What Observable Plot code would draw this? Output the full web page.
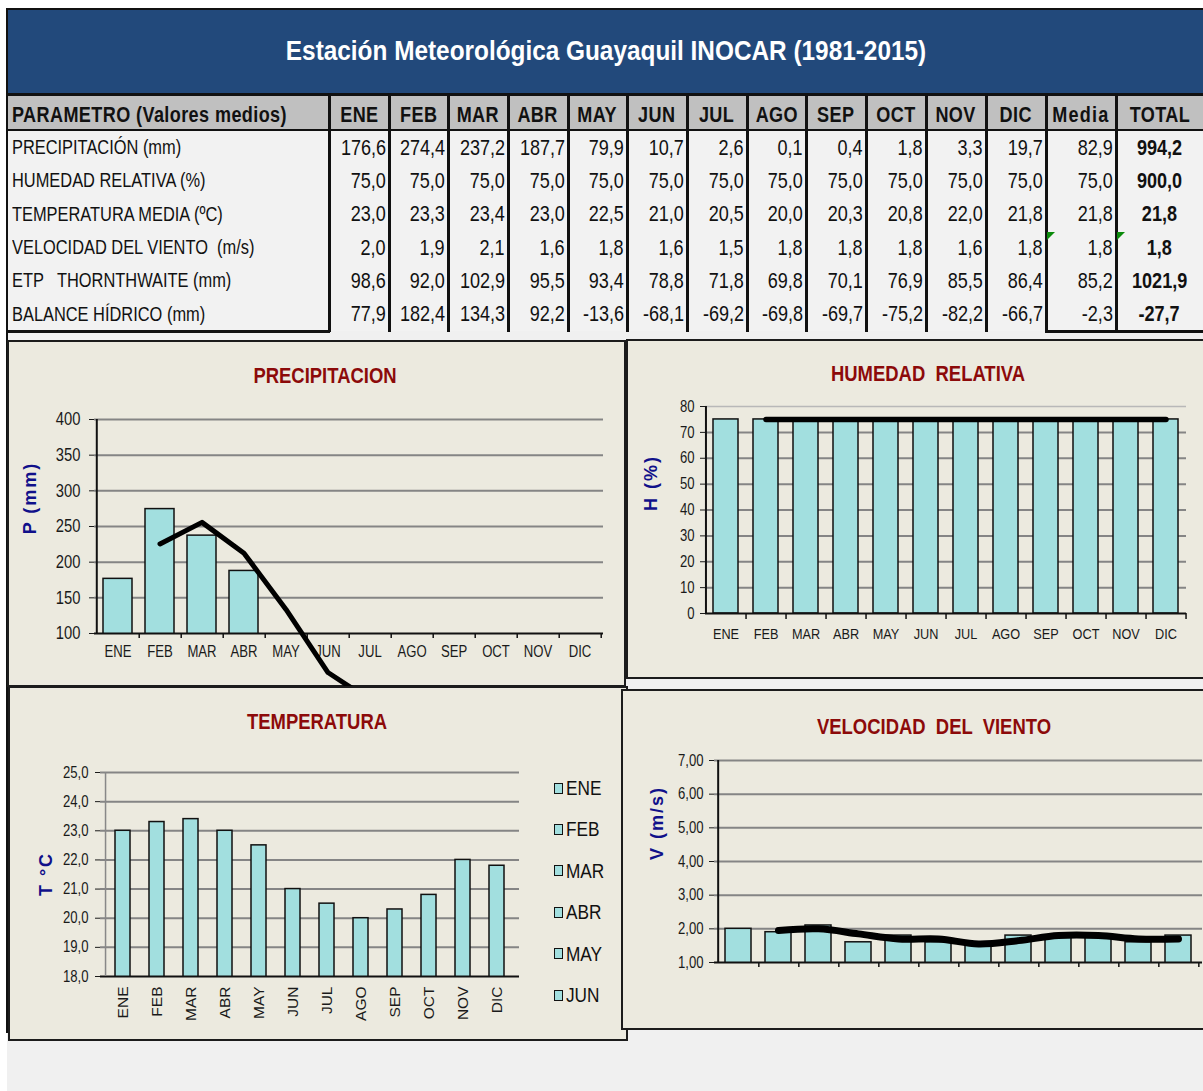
<!DOCTYPE html>
<html lang="es">
<head>
<meta charset="utf-8">
<title>Estación Meteorológica Guayaquil INOCAR (1981-2015)</title>
<script src="https://cdn.jsdelivr.net/npm/d3@7"></script>
<script src="https://cdn.jsdelivr.net/npm/@observablehq/plot@0.6"></script>
<style>
  html, body { margin:0; padding:0; background:#fff; }
  body { width:1203px; height:1091px; position:relative; overflow:hidden;
         font-family:"Liberation Sans",Arial,sans-serif; color:#111; }
  .abs { position:absolute; box-sizing:border-box; }
  .cell { position:absolute; display:flex; align-items:center; white-space:pre; box-sizing:border-box; }
  .cell > span, .leg > span, .ttl > span { display:inline-block; flex-shrink:0; white-space:pre; }
  .panel { position:absolute; box-sizing:border-box; background:#eceadf; border:2px solid #1c1c1c; }
  .ptitle { position:absolute; transform:translate(-50%,-50%) scaleX(0.82); color:#8c0a0a; font-weight:bold; font-size:22.5px; white-space:pre; }
  .ytitle { position:absolute; transform:translate(-50%,-50%) rotate(-90deg); color:#10108a; font-weight:bold; font-size:18px; letter-spacing:2px; white-space:pre; }
  .leg { position:absolute; display:flex; align-items:center; font-size:21px; white-space:pre; }
  .sw { width:9px; height:11px; background:#a2dfdf; border:1.5px solid #111; box-sizing:border-box; margin-right:3px; flex-shrink:0; }
</style>
</head>
<body>
<script>
// ---------------- DATA ----------------
const months = ["ENE","FEB","MAR","ABR","MAY","JUN","JUL","AGO","SEP","OCT","NOV","DIC"];
const paramLabels = ["PRECIPITACIÓN (mm)","HUMEDAD RELATIVA (%)","TEMPERATURA MEDIA (ºC)","VELOCIDAD DEL VIENTO  (m/s)","ETP   THORNTHWAITE (mm)","BALANCE HÍDRICO (mm)"];
const headerFirst = "PARAMETRO (Valores medios)";
const headerMedia = "Media";
const headerTotal = "TOTAL";
const precip      = [176.6,274.4,237.2,187.7,79.9,10.7,2.6,0.1,0.4,1.8,3.3,19.7];
const humedad     = [75.0,75.0,75.0,75.0,75.0,75.0,75.0,75.0,75.0,75.0,75.0,75.0];
const temperatura = [23.0,23.3,23.4,23.0,22.5,21.0,20.5,20.0,20.3,20.8,22.0,21.8];
const viento      = [2.0,1.9,2.1,1.6,1.8,1.6,1.5,1.8,1.8,1.8,1.6,1.8];
const etp         = [98.6,92.0,102.9,95.5,93.4,78.8,71.8,69.8,70.1,76.9,85.5,86.4];
const balance     = [77.9,182.4,134.3,92.2,-13.6,-68.1,-69.2,-69.8,-69.7,-75.2,-82.2,-66.7];
const media       = [82.9,75.0,21.8,1.8,85.2,-2.3];
const total       = [994.2,900.0,21.8,1.8,1021.9,-27.7];
// trend lines (FEB..DIC)
const precipTrend = [225.5,255.8,212.5,133.8,45.3,6.7,1.4,0.3,1.1,2.6,11.5];
const humTrend    = [75,75,75,75,75,75,75,75,75,75,75];
const vientoTrend = [1.95,2.0,1.85,1.7,1.7,1.55,1.65,1.8,1.8,1.7,1.7];
// axis ticks
const precipTicks = [100,150,200,250,300,350,400];
const humTicks    = [0,10,20,30,40,50,60,70,80];
const tempTicks   = [18,19,20,21,22,23,24,25];
const vientoTicks = [1,2,3,4,5,6,7];
const legendMonths = ["ENE","FEB","MAR","ABR","MAY","JUN"];
const chartTitles = ["PRECIPITACION","HUMEDAD  RELATIVA","TEMPERATURA","VELOCIDAD  DEL  VIENTO"];
const yTitles = ["P (mm)","H (%)","T °C","V (m/s)"];
const mainTitle = "Estación Meteorológica Guayaquil INOCAR (1981-2015)";

// ---------------- HELPERS ----------------
const NF = 0.82; // horizontal condensing (narrow face look)
const BAR = "#a2dfdf";
const fmt1 = v => v.toFixed(1).replace(".", ",");
const fmt2 = v => v.toFixed(2).replace(".", ",");
const px = v => v + "px";
function box(cls, css, text) {
  const d = document.createElement("div");
  if (cls) d.className = cls;
  Object.assign(d.style, css);
  if (text != null) d.textContent = text;
  document.body.appendChild(d);
  return d;
}
function nspan(parent, text, origin, f = NF) {
  const s = document.createElement("span");
  s.textContent = text;
  s.style.transform = `scaleX(${f})`;
  s.style.transformOrigin = origin + " center";
  parent.appendChild(s);
  return s;
}
function cell(l, t, w, h, text, align, css) {
  const c = box("cell", Object.assign({left:px(l), top:px(t), width:px(w), height:px(h),
    justifyContent: align === "left" ? "flex-start" : align === "right" ? "flex-end" : "center"}, css));
  nspan(c, text, align);
  return c;
}
function rect(l, t, w, h, bg) { return box("abs", {left:px(l), top:px(t), width:px(w), height:px(h), background:bg}); }
function place(svg, l, t) { svg.style.position = "absolute"; svg.style.left = px(l); svg.style.top = px(t); document.body.appendChild(svg); }
function narrowSvg(svg, skip) {
  svg.querySelectorAll("text").forEach(t => {
    if (skip && t.closest(skip)) return;
    const L = t.getComputedTextLength();
    if (L > 0) { t.setAttribute("textLength", (L * NF).toFixed(2)); t.setAttribute("lengthAdjust", "spacingAndGlyphs"); }
  });
}

// ---------------- PAGE / TABLE ----------------
rect(7, 8, 1196, 1083, "#f0f0f0");
rect(6, 8, 1197, 2, "#111");           // outer top border
rect(6, 8, 2, 1025, "#111");           // outer left border
rect(8, 10, 1195, 84, "#22497b");      // title bar
{
  const t = box("ttl abs", {left:"8px", top:"10px", width:"1195px", height:"84px", display:"flex", alignItems:"center", justifyContent:"center",
    color:"#fff", fontWeight:"bold", fontSize:"28px", paddingBottom:"2px"});
  const s = nspan(t, mainTitle, "center", 1);
  s.style.transform = `scaleX(${(640 / s.offsetWidth).toFixed(3)})`;
}
rect(8, 93, 1195, 3, "#111");          // under title
rect(8, 96, 1195, 34, "#c0c0c0");      // header bg
rect(8, 131, 1195, 200, "#f2f2f2");    // body bg
rect(8, 129, 1195, 2, "#111");         // header bottom

const colEdges = [8, 329, 389, 448, 508, 568, 627, 687, 747, 806, 866, 926, 986, 1046, 1116, 1203];
const headers = [headerFirst, ...months, headerMedia, headerTotal];
headers.forEach((h, i) => {
  const l = colEdges[i], w = colEdges[i+1] - colEdges[i];
  cell(l, 96, w, 34, h, i === 0 ? "left" : "center",
    {fontWeight:"bold", fontSize:"22px", paddingLeft: i === 0 ? "4px" : "0", paddingTop:"3px",
     letterSpacing: (i === headers.length-2) ? "1.5px" : "0.5px"});
});
const rowsData = [precip, humedad, temperatura, viento, etp, balance];
const rowH = 33.3;
rowsData.forEach((arr, r) => {
  const t = 131 + r * rowH;
  cell(8, t, 321, rowH, paramLabels[r], "left", {fontSize:"20px", paddingLeft:"4px"});
  arr.forEach((v, i) => {
    const l = colEdges[i+1], w = colEdges[i+2] - colEdges[i+1];
    cell(l, t, w, rowH, fmt1(v), "right", {fontSize:"22px", paddingRight:"3px"});
  });
  cell(colEdges[13], t, colEdges[14]-colEdges[13], rowH, fmt1(media[r]), "right", {fontSize:"22px", paddingRight:"3px"});
  cell(colEdges[14], t, colEdges[15]-colEdges[14], rowH, fmt1(total[r]), "center", {fontSize:"22px", fontWeight:"bold"});
});
for (let i = 1; i < colEdges.length - 1; i++) rect(colEdges[i] - 1, 96, 2.5, 236, "#111");
rect(6, 330, 324, 2.5, "#111");
rect(1045, 330, 158, 2.5, "#111");
// green error indicators (VELOCIDAD row, Media & TOTAL)
[1047, 1117].forEach(l => box("abs", {left:px(l), top:px(131 + 3*rowH + 1), width:"0", height:"0",
  borderTop:"8px solid #0b8a0b", borderRight:"8px solid transparent"}));

// ---------------- CHART HELPERS ----------------
const baseStyle = {background:"transparent", fontFamily:'"Liberation Sans",Arial,sans-serif', color:"#1a1a1a", overflow:"hidden"};
function rowsOf(values) { return months.map((m, i) => ({mes:m, v:values[i]})); }
function trendOf(values) { return months.slice(1).map((m, i) => ({mes:m, v:values[i]})); }

// ---------------- PRECIPITACION ----------------
box("panel", {left:"7px", top:"340px", width:"619px", height:"347px"});
{
  const W = 615, H = 344, mL = 85, mR = 21, mT = 77, mB = 53;
  const step = (W - mL - mR) / 12, fh = H - mT - mB;
  const svg = Plot.plot({
    width: W, height: H, marginLeft: mL, marginRight: mR, marginTop: mT, marginBottom: mB,
    style: baseStyle,
    x: {domain: months, paddingInner: 0.32, paddingOuter: 0.16, label: null},
    y: {domain: [100, 400], label: null},
    marks: [
      Plot.ruleY(precipTicks.slice(1), {stroke: "#858585", strokeWidth: 2}),
      Plot.barY(rowsOf(precip), {x: "mes", y: "v", fill: BAR, stroke: "#111", strokeWidth: 1.5, clip: true}),
      Plot.ruleY([100], {stroke: "#111", strokeWidth: 2}),
      Plot.ruleX([months[0]], {dx: -step/2, stroke: "#111", strokeWidth: 2}),
      Plot.ruleX(months, {dx: step/2, insetTop: fh, insetBottom: -5, stroke: "#111", strokeWidth: 1.5}),
      Plot.axisY({ticks: precipTicks, tickSize: 5, tickPadding: 9, fontSize: 18, tickFormat: d => String(d)}),
      Plot.axisX({tickSize: 0, tickPadding: 12, fontSize: 16}),
      Plot.lineY(trendOf(precipTrend), {x: "mes", y: "v", stroke: "#000", strokeWidth: 5, strokeLinecap: "round", strokeLinejoin: "round"})
    ]
  });
  place(svg, 9, 342);
  narrowSvg(svg);
}
box("ptitle", {left:"325px", top:"376px"}, chartTitles[0]);
box("ytitle", {left:"30px", top:"498px"}, yTitles[0]);

// ---------------- HUMEDAD ----------------
box("panel", {left:"626px", top:"339px", width:"600px", height:"340px"});
{
  const W = 575, H = 336, mL = 77, mR = 17, mT = 65, mB = 64;
  const step = (W - mL - mR) / 12, fh = H - mT - mB;
  const svg = Plot.plot({
    width: W, height: H, marginLeft: mL, marginRight: mR, marginTop: mT, marginBottom: mB,
    style: baseStyle,
    x: {domain: months, paddingInner: 0.38, paddingOuter: 0.19, label: null},
    y: {domain: [0, 80], label: null},
    marks: [
      Plot.ruleY(humTicks.slice(1, -1), {stroke: "#858585", strokeWidth: 2}),
      Plot.ruleY(humTicks.slice(-1), {stroke: "#b8b8b8", strokeWidth: 1.5}),
      Plot.barY(rowsOf(humedad), {x: "mes", y: "v", fill: BAR, stroke: "#111", strokeWidth: 1.5}),
      Plot.ruleY([0], {stroke: "#111", strokeWidth: 2}),
      Plot.ruleX([months[0]], {dx: -step/2, stroke: "#111", strokeWidth: 2}),
      Plot.ruleX(months, {dx: step/2, insetTop: fh, insetBottom: -6, stroke: "#111", strokeWidth: 1.5}),
      Plot.axisY({ticks: humTicks, tickSize: 5, tickPadding: 6, fontSize: 16, tickFormat: d => String(d)}),
      Plot.axisX({tickSize: 0, tickPadding: 14, fontSize: 15.5}),
      Plot.lineY(trendOf(humTrend), {x: "mes", y: "v", stroke: "#000", strokeWidth: 5.5, strokeLinecap: "round"})
    ]
  });
  place(svg, 628, 341);
  narrowSvg(svg);
}
box("ptitle", {left:"928px", top:"374px"}, chartTitles[1]);
box("ytitle", {left:"651px", top:"483px"}, yTitles[1]);

// ---------------- TEMPERATURA ----------------
box("panel", {left:"8px", top:"686px", width:"620px", height:"355px"});
{
  const W = 616, H = 350, mL = 90, mR = 107, mT = 84, mB = 62;
  const step = (W - mL - mR) / 12;
  const svg = Plot.plot({
    width: W, height: H, marginLeft: mL, marginRight: mR, marginTop: mT, marginBottom: mB,
    style: baseStyle,
    x: {domain: months, paddingInner: 0.57, paddingOuter: 0.285, label: null},
    y: {domain: [18, 25], label: null},
    marks: [
      Plot.ruleY(tempTicks.slice(1), {stroke: "#858585", strokeWidth: 2}),
      Plot.barY(rowsOf(temperatura), {x: "mes", y: "v", fill: BAR, stroke: "#111", strokeWidth: 1.5, clip: true}),
      Plot.ruleY([18], {stroke: "#111", strokeWidth: 2}),
      Plot.ruleX([months[0]], {dx: -step/2, stroke: "#888", strokeWidth: 1.5}),
      Plot.axisY({ticks: tempTicks, tickSize: 5, tickPadding: 7, fontSize: 16, tickFormat: fmt1}),
      Plot.axisX({tickSize: 0, tickPadding: 10, tickRotate: -90, fontSize: 15.5})
    ]
  });
  place(svg, 10, 688);
  narrowSvg(svg, '[aria-label="x-axis tick label"]');
}
box("ptitle", {left:"317px", top:"722px"}, chartTitles[2]);
box("ytitle", {left:"46px", top:"874px"}, yTitles[2]);
legendMonths.forEach((m, i) => {
  const d = box("leg", {left:"554px", top:px(788 + i*41.4 - 13), height:"26px"});
  const s = document.createElement("div"); s.className = "sw"; d.appendChild(s);
  nspan(d, m, "left");
});

// ---------------- VELOCIDAD DEL VIENTO ----------------
box("panel", {left:"621px", top:"689px", width:"600px", height:"341px"});
{
  const W = 580, H = 337, mL = 91, mR = 1, mT = 69, mB = 66;
  const step = (W - mL - mR) / 12, fh = H - mT - mB;
  const svg = Plot.plot({
    width: W, height: H, marginLeft: mL, marginRight: mR, marginTop: mT, marginBottom: mB,
    style: baseStyle,
    x: {domain: months, paddingInner: 0.36, paddingOuter: 0.18, label: null, axis: null},
    y: {domain: [1, 7], label: null},
    marks: [
      Plot.ruleY(vientoTicks.slice(1), {stroke: "#858585", strokeWidth: 2}),
      Plot.barY(rowsOf(viento), {x: "mes", y: "v", fill: BAR, stroke: "#111", strokeWidth: 1.5, clip: true}),
      Plot.ruleY([1], {stroke: "#111", strokeWidth: 2}),
      Plot.ruleX([months[0]], {dx: -step/2, stroke: "#111", strokeWidth: 2}),
      Plot.ruleX(months, {dx: step/2, insetTop: fh, insetBottom: -5, stroke: "#111", strokeWidth: 1.5}),
      Plot.axisY({ticks: vientoTicks, tickSize: 5, tickPadding: 6, fontSize: 16, tickFormat: fmt2}),
      Plot.lineY(trendOf(vientoTrend), {x: "mes", y: "v", curve: "catmull-rom", stroke: "#000", strokeWidth: 7, strokeLinecap: "round"})
    ]
  });
  place(svg, 623, 691);
  narrowSvg(svg);
}
box("ptitle", {left:"934px", top:"727px"}, chartTitles[3]);
box("ytitle", {left:"657px", top:"823px"}, yTitles[3]);
</script>
</body>
</html>
